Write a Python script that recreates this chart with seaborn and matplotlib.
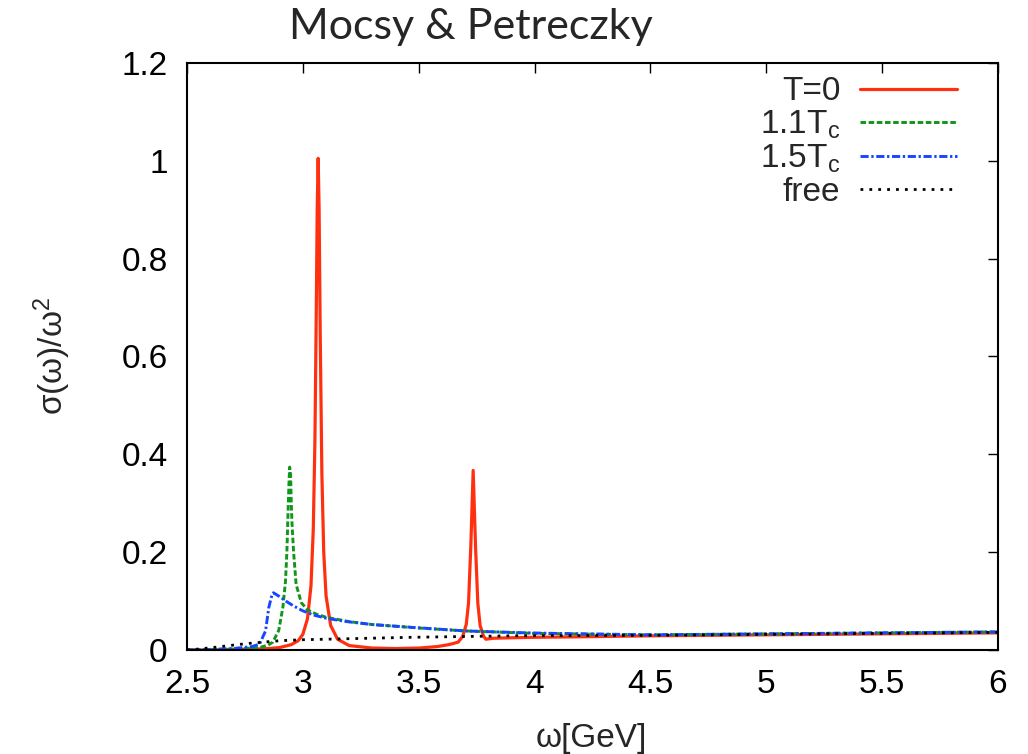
import seaborn as sns
import matplotlib
matplotlib.use("Agg")
import matplotlib.pyplot as plt

# values
omega_t0 = [2.5, 2.6, 2.7, 2.8, 2.85, 2.9, 2.95, 2.98, 3.0, 3.02, 3.035, 3.045, 3.052,
            3.058, 3.062, 3.066, 3.070, 3.075, 3.082, 3.09, 3.1, 3.12, 3.15, 3.2, 3.3,
            3.4, 3.5, 3.58, 3.63, 3.67, 3.69, 3.705, 3.715, 3.725, 3.735, 3.745, 3.755,
            3.765, 3.78, 3.79, 3.82, 3.9, 4.0, 4.2, 4.5, 5.0, 5.5, 6.0]
sigma_t0 = [0.0, 0.0, 0.001, 0.002, 0.003, 0.005, 0.011, 0.019, 0.032, 0.064, 0.131, 0.247, 0.426,
            0.696, 0.905, 1.005, 0.905, 0.643, 0.362, 0.201, 0.111, 0.05, 0.022, 0.009, 0.004,
            0.003, 0.004, 0.007, 0.011, 0.016, 0.028, 0.052, 0.096, 0.214, 0.367, 0.214, 0.096,
            0.05, 0.028, 0.022, 0.024, 0.025, 0.026, 0.027, 0.029, 0.031, 0.033, 0.035]

omega_11 = [2.5, 2.6, 2.7, 2.78, 2.82, 2.85, 2.87, 2.896, 2.914, 2.925, 2.931, 2.936, 2.94,
            2.943, 2.947, 2.95, 2.953, 2.96, 2.971, 2.993, 3.02, 3.06, 3.1, 3.2, 3.3, 3.5,
            3.7, 4.0, 4.5, 5.0, 5.5, 6.0]
sigma_11 = [0.0, 0.001, 0.002, 0.004, 0.006, 0.01, 0.016, 0.04, 0.088, 0.14, 0.2, 0.28, 0.34,
            0.374, 0.36, 0.30, 0.26, 0.2, 0.134, 0.097, 0.082, 0.073, 0.067, 0.058, 0.052, 0.045,
            0.039, 0.034, 0.031, 0.033, 0.035, 0.037]

omega_15 = [2.5, 2.6, 2.7, 2.78, 2.813, 2.839, 2.853, 2.868, 2.873, 2.88, 2.9, 2.93, 2.96,
            3.0, 3.05, 3.1, 3.19, 3.3, 3.48, 3.7, 3.97, 4.2, 4.5, 5.0, 5.5, 6.0]
sigma_15 = [0.0, 0.001, 0.003, 0.007, 0.012, 0.039, 0.087, 0.115, 0.117, 0.115, 0.109, 0.099, 0.09,
            0.08, 0.071, 0.065, 0.058, 0.052, 0.046, 0.039, 0.035, 0.033, 0.031, 0.033, 0.035, 0.037]

omega_free = [2.5, 2.55, 2.61, 2.7, 2.755, 2.9, 3.0, 3.19, 3.47, 3.9, 4.5, 5.0, 5.5, 6.0]
sigma_free = [0.0, 0.002, 0.005, 0.01, 0.013, 0.019, 0.021, 0.023, 0.026, 0.029, 0.030, 0.032,
              0.034, 0.036]

x_ticks = [2.5, 3, 3.5, 4, 4.5, 5, 5.5, 6]
x_tick_labels = ["2.5", "3", "3.5", "4", "4.5", "5", "5.5", "6"]
y_ticks = [0, 0.2, 0.4, 0.6, 0.8, 1.0, 1.2]
y_tick_labels = ["0", "0.2", "0.4", "0.6", "0.8", "1", "1.2"]

sns.set_style("white")
plt.rcParams['font.family'] = ['Liberation Sans', 'DejaVu Sans']
plt.rcParams['mathtext.fontset'] = 'custom'
plt.rcParams['mathtext.rm'] = 'Liberation Sans'
plt.rcParams['mathtext.default'] = 'regular'

fig = plt.figure(figsize=(10.28, 7.54), dpi=100)
ax = fig.add_axes([187 / 1028, 1 - 650 / 754, 811 / 1028, 587 / 754])

sns.lineplot(x=omega_t0, y=sigma_t0, ax=ax, color='#ff3010', lw=2.3, label='T=0')
sns.lineplot(x=omega_11, y=sigma_11, ax=ax, color='#10961a', lw=2.1,
             linestyle=(0, (1.9, 0.9)), label='1.1T$_c$')
sns.lineplot(x=omega_15, y=sigma_15, ax=ax, color='#1846ff', lw=2.1,
             linestyle=(0, (2.8, 0.9, 0.8, 0.9)), label='1.5T$_c$')
sns.lineplot(x=omega_free, y=sigma_free, ax=ax, color='black', lw=2.0,
             linestyle=(0, (1.0, 2.2)), label='free')

ax.set_xlim(2.5, 6)
ax.set_ylim(0, 1.2)
ax.set_xticks(x_ticks, x_tick_labels)
ax.set_yticks(y_ticks, y_tick_labels)
ax.tick_params(direction='in', length=7, width=1.0, top=True, right=True,
               labelsize=24, pad=14, colors='black')
for s in ax.spines.values():
    s.set_visible(True)
    s.set_color('black')
    s.set_linewidth(1.5)

leg = ax.legend(loc='upper right', bbox_to_anchor=(0.966, 1.0), frameon=False,
                markerfirst=False, fontsize=24, handlelength=2.9, handletextpad=0.6,
                labelspacing=0.05, borderaxespad=0.0)

fig.text(471 / 1028, 1 - 39 / 754, 'Mocsy & Petreczky', ha='center', va='baseline',
         fontsize=31, family=['Lato', 'DejaVu Sans'])
fig.text(591 / 1028, 1 - 739 / 754, 'ω[GeV]', ha='center', va='center', fontsize=24)
fig.text(52 / 1028, 1 - 356 / 754, 'σ(ω)/ω$^2$', ha='center', va='center',
         rotation=90, fontsize=24)

fig.savefig('out.png', dpi=100)
